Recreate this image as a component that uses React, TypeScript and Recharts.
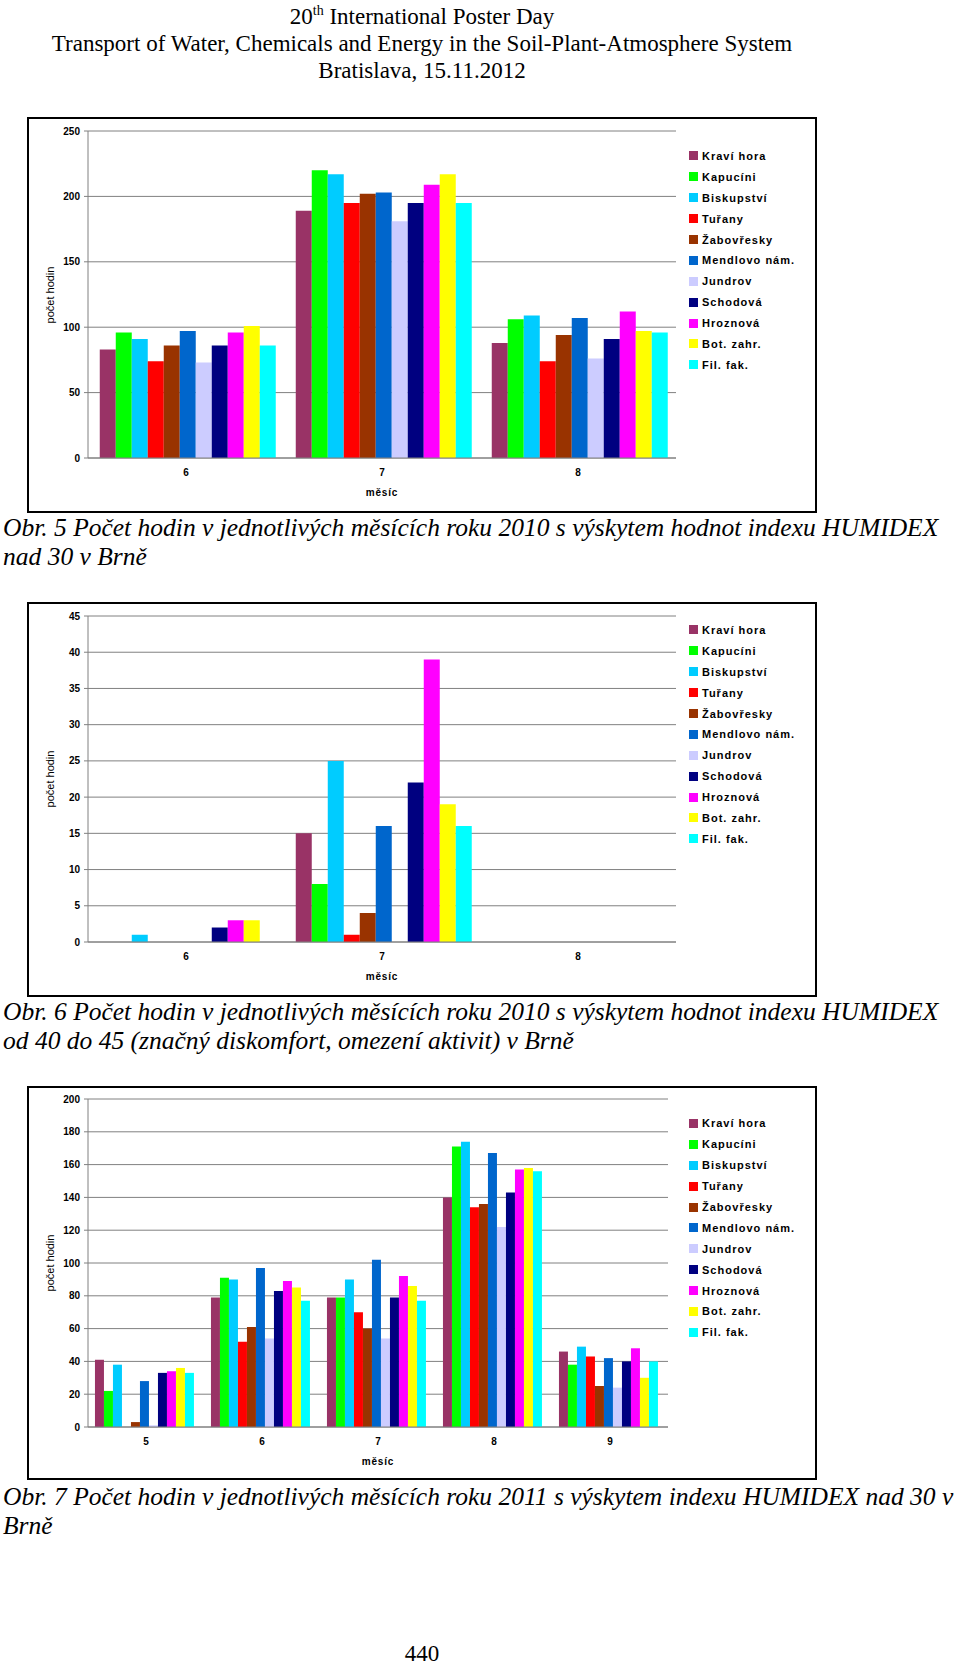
import React from 'react';
import { BarChart, Bar, XAxis, YAxis, CartesianGrid, Legend } from 'recharts';

const stations = [
  'Kraví hora',
  'Kapucíni',
  'Biskupství',
  'Tuřany',
  'Žabovřesky',
  'Mendlovo nám.',
  'Jundrov',
  'Schodová',
  'Hroznová',
  'Bot. zahr.',
  'Fil. fak.',
];
const stationColors = [
  '#993366', '#00ff00', '#00ccff', '#ff0000', '#993300', '#0066cc',
  '#ccccff', '#000080', '#ff00ff', '#ffff00', '#00ffff',
];

// Obr. 5 - 2010, HUMIDEX > 30 (one array per month, values in station order)
const fig5Months = ['6', '7', '8'];
const fig5Jun = [83, 96, 91, 74, 86, 97, 73, 86, 96, 101, 86];
const fig5Jul = [189, 220, 217, 195, 202, 203, 181, 195, 209, 217, 195];
const fig5Aug = [88, 106, 109, 74, 94, 107, 76, 91, 112, 97, 96];
const fig5Ticks = [0, 50, 100, 150, 200, 250];

// Obr. 6 - 2010, HUMIDEX 40-45
const fig6Months = ['6', '7', '8'];
const fig6Jun = [0, 0, 1, 0, 0, 0, 0, 2, 3, 3, 0];
const fig6Jul = [15, 8, 25, 1, 4, 16, 0, 22, 39, 19, 16];
const fig6Aug = [0, 0, 0, 0, 0, 0, 0, 0, 0, 0, 0];
const fig6Ticks = [0, 5, 10, 15, 20, 25, 30, 35, 40, 45];

// Obr. 7 - 2011, HUMIDEX > 30
const fig7Months = ['5', '6', '7', '8', '9'];
const fig7May = [41, 22, 38, 0, 3, 28, 1, 33, 34, 36, 33];
const fig7Jun = [79, 91, 90, 52, 61, 97, 54, 83, 89, 85, 77];
const fig7Jul = [79, 79, 90, 70, 60, 102, 54, 79, 92, 86, 77];
const fig7Aug = [140, 171, 174, 134, 136, 167, 122, 143, 157, 158, 156];
const fig7Sep = [46, 38, 49, 43, 25, 42, 24, 40, 48, 30, 40];
const fig7Ticks = [0, 20, 40, 60, 80, 100, 120, 140, 160, 180, 200];

type Row = { month: string; [key: string]: string | number };

const buildRows = (months: string[], values: number[][]): Row[] =>
  months.map((m, mi) => {
    const row: Row = { month: m };
    stations.forEach((_, si) => {
      row['s' + si] = values[mi][si];
    });
    return row;
  });

const sans = '"Liberation Sans", Arial, sans-serif';
const serif = '"Liberation Serif", "Times New Roman", serif';
const gray = '#808080';

// keep legend in series order (recharts sorts by name otherwise)
const legendOrder = (item: any) => stations.indexOf(item.value);

const renderLegend = (props: any) => (
  <div style={{ fontFamily: sans, fontWeight: 'bold', fontSize: 11, letterSpacing: 1, color: '#000' }}>
    {(props.payload || []).map((p: any) => (
      <div key={p.value} style={{ height: 20.9, display: 'flex', alignItems: 'center', whiteSpace: 'nowrap' }}>
        <span style={{ width: 9, height: 9, background: p.color, marginRight: 4, display: 'inline-block' }} />
        {p.value}
      </div>
    ))}
  </div>
);

type ChartProps = {
  data: Row[];
  ticks: number[];
  frameTop: number;
  frameHeight: number;
  marginTop: number;
  marginRight: number;
  xAxisHeight: number;
  legendTop: number;
};

const HumidexChart = ({ data, ticks, frameTop, frameHeight, marginTop, marginRight, xAxisHeight, legendTop }: ChartProps) => {
  const innerW = 786;
  const innerH = frameHeight - 4;
  const plotH = innerH - marginTop - xAxisHeight;
  return (
    <div
      style={{
        position: 'absolute',
        left: 27,
        top: frameTop,
        width: 790,
        height: frameHeight,
        border: '2px solid #000',
        boxSizing: 'border-box',
        background: '#fff',
      }}
    >
      <div
        style={{
          position: 'absolute',
          left: 21,
          top: marginTop + plotH / 2,
          transform: 'translate(-50%, -50%) rotate(-90deg)',
          fontFamily: sans,
          fontSize: 11,
          whiteSpace: 'nowrap',
        }}
      >
        počet hodin
      </div>
      <BarChart
        width={innerW}
        height={innerH}
        data={data}
        margin={{ top: marginTop, right: marginRight, bottom: 0, left: 0 }}
        barCategoryGap="6%"
        barGap={0}
      >
        <CartesianGrid vertical={false} stroke={gray} strokeWidth={1} />
        <XAxis
          dataKey="month"
          height={xAxisHeight}
          axisLine={{ stroke: gray }}
          tickLine={false}
          tickSize={6}
          tickMargin={5}
          tick={{ fontFamily: sans, fontSize: 10, fontWeight: 'bold', fill: '#000' }}
          label={{
            value: 'měsíc',
            position: 'insideBottom',
            offset: xAxisHeight - 38,
            style: { fontFamily: sans, fontSize: 10, fontWeight: 'bold', fill: '#000', letterSpacing: 0.8 },
          }}
        />
        <YAxis
          width={59}
          domain={[0, ticks[ticks.length - 1]]}
          ticks={ticks}
          interval={0}
          axisLine={{ stroke: gray }}
          tickLine={{ stroke: gray }}
          tickSize={4}
          tickMargin={4}
          tick={{ fontFamily: sans, fontSize: 10, fontWeight: 'bold', fill: '#000' }}
        />
        <Legend
          layout="vertical"
          align="center"
          verticalAlign="middle"
          itemSorter={legendOrder}
          content={renderLegend}
          wrapperStyle={{ left: 660, top: legendTop, width: 125 }}
        />
        {stations.map((name, i) => (
          <Bar key={name} dataKey={'s' + i} name={name} fill={stationColors[i]} isAnimationActive={false} />
        ))}
      </BarChart>
    </div>
  );
};

const captionStyle: React.CSSProperties = {
  position: 'absolute',
  left: 3,
  fontFamily: serif,
  fontStyle: 'italic',
  fontSize: 25.5,
  lineHeight: '29px',
  whiteSpace: 'nowrap',
  color: '#000',
};

export default function App() {
  const fig5 = buildRows(fig5Months, [fig5Jun, fig5Jul, fig5Aug]);
  const fig6 = buildRows(fig6Months, [fig6Jun, fig6Jul, fig6Aug]);
  const fig7 = buildRows(fig7Months, [fig7May, fig7Jun, fig7Jul, fig7Aug, fig7Sep]);

  return (
    <div style={{ position: 'absolute', left: 0, top: 0, width: 960, height: 1667, background: '#fff', overflow: 'hidden' }}>
      <div
        style={{
          position: 'absolute',
          left: 422 - 450,
          top: 3,
          width: 900,
          textAlign: 'center',
          fontFamily: serif,
          fontSize: 23,
          lineHeight: '27px',
          color: '#000',
        }}
      >
        <div>
          20<sup style={{ fontSize: 14, lineHeight: 0 }}>th</sup> International Poster Day
        </div>
        <div>Transport of Water, Chemicals and Energy in the Soil-Plant-Atmosphere System</div>
        <div>Bratislava, 15.11.2012</div>
      </div>

      <HumidexChart
        data={fig5}
        ticks={fig5Ticks}
        frameTop={117}
        frameHeight={396}
        marginTop={12}
        marginRight={139}
        xAxisHeight={53}
        legendTop={26.5}
      />
      <div style={{ ...captionStyle, top: 513 }}>
        Obr. 5 Počet hodin v jednotlivých měsících roku 2010 s výskytem hodnot indexu HUMIDEX
        <br />
        nad 30 v Brně
      </div>

      <HumidexChart
        data={fig6}
        ticks={fig6Ticks}
        frameTop={602}
        frameHeight={395}
        marginTop={12}
        marginRight={139}
        xAxisHeight={53}
        legendTop={15.5}
      />
      <div style={{ ...captionStyle, top: 997 }}>
        Obr. 6 Počet hodin v jednotlivých měsících roku 2010 s výskytem hodnot indexu HUMIDEX
        <br />
        od 40 do 45 (značný diskomfort, omezení aktivit) v Brně
      </div>

      <HumidexChart
        data={fig7}
        ticks={fig7Ticks}
        frameTop={1086}
        frameHeight={394}
        marginTop={11}
        marginRight={147}
        xAxisHeight={51}
        legendTop={25}
      />
      <div style={{ ...captionStyle, top: 1482 }}>
        Obr. 7 Počet hodin v jednotlivých měsících roku 2011 s výskytem indexu HUMIDEX nad 30 v
        <br />
        Brně
      </div>

      <div
        style={{
          position: 'absolute',
          left: 422 - 50,
          top: 1640,
          width: 100,
          textAlign: 'center',
          fontFamily: serif,
          fontSize: 23,
          lineHeight: '27px',
        }}
      >
        440
      </div>
    </div>
  );
}
